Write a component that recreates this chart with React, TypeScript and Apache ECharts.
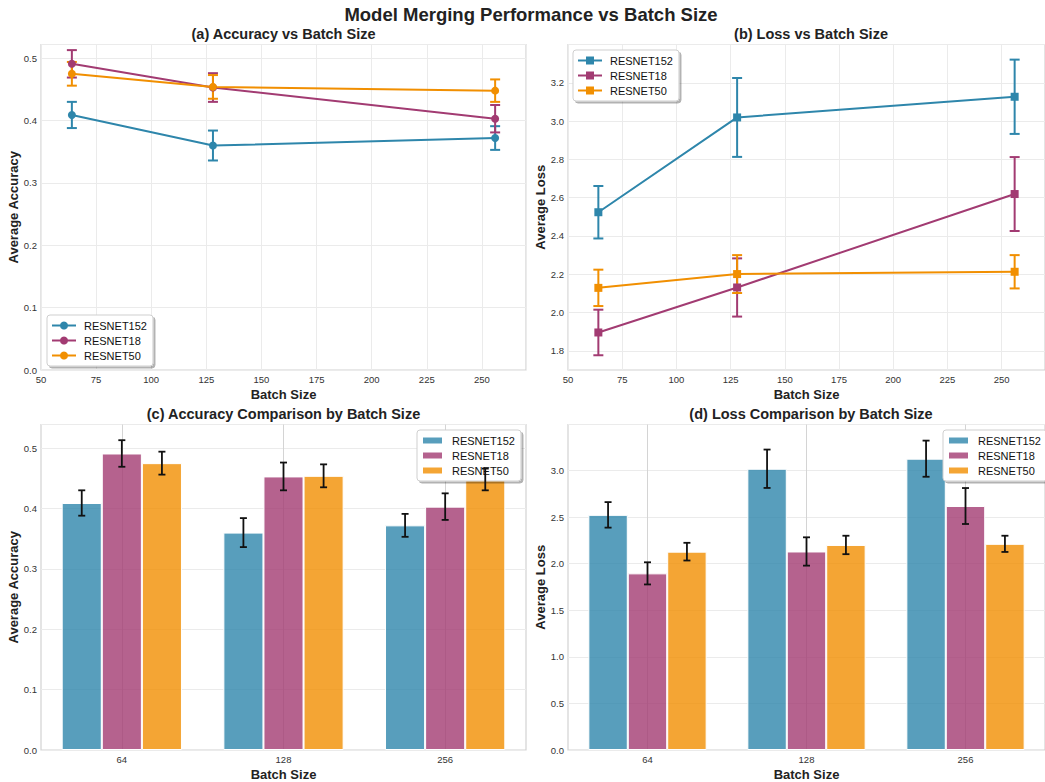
import React, { useEffect, useRef } from 'react';
import * as echarts from 'echarts';

// ---------------- data ----------------
const batchSizes = [64, 128, 256];
const batchLabels = ['64', '128', '256'];
const models = ['RESNET152', 'RESNET18', 'RESNET50'];
const modelColors = ['#2E86AB', '#A23B72', '#F18F01'];
const barColors = ['rgba(46,134,171,0.8)', 'rgba(162,59,114,0.8)', 'rgba(241,143,1,0.8)'];

const accR152 = [0.409, 0.360, 0.372];
const accR18 = [0.491, 0.453, 0.403];
const accR50 = [0.475, 0.454, 0.448];
const accErrR152 = [0.021, 0.024, 0.019];
const accErrR18 = [0.022, 0.023, 0.022];
const accErrR50 = [0.019, 0.019, 0.018];

const lossR152 = [2.524, 3.019, 3.127];
const lossR18 = [1.896, 2.131, 2.619];
const lossR50 = [2.129, 2.201, 2.213];
const lossErrR152 = [0.137, 0.206, 0.194];
const lossErrR18 = [0.119, 0.152, 0.193];
const lossErrR50 = [0.095, 0.099, 0.087];

const accMeans = [accR152, accR18, accR50];
const accErrs = [accErrR152, accErrR18, accErrR50];
const lossMeans = [lossR152, lossR18, lossR50];
const lossErrs = [lossErrR152, lossErrR18, lossErrR50];

const FONT = '"Liberation Sans", Arial, Helvetica, sans-serif';

// ---------------- helpers ----------------
function errRender(capHalf: number, lw: number, color: string, offsetFrac: number) {
  return (params: any, api: any) => {
    const x = api.value(0);
    const lo = api.value(2);
    const hi = api.value(3);
    const pLo = api.coord([x, lo]);
    const pHi = api.coord([x, hi]);
    const off = offsetFrac ? api.size([1, 0])[0] * offsetFrac : 0;
    const cx = pLo[0] + off;
    const style = { stroke: color, lineWidth: lw, fill: 'none' };
    return {
      type: 'group',
      children: [
        { type: 'line', shape: { x1: cx, y1: pLo[1], x2: cx, y2: pHi[1] }, style },
        { type: 'line', shape: { x1: cx - capHalf, y1: pLo[1], x2: cx + capHalf, y2: pLo[1] }, style },
        { type: 'line', shape: { x1: cx - capHalf, y1: pHi[1], x2: cx + capHalf, y2: pHi[1] }, style },
      ],
    };
  };
}

const tickLabel = { fontSize: 9.5, color: '#333', fontFamily: FONT };
const axisName = { fontSize: 13, fontWeight: 'bold', color: '#222', fontFamily: FONT };
const gridBase = { show: true, backgroundColor: '#fff', borderColor: '#d2d2d2', borderWidth: 1.2 };
const lightGrid = { show: true, lineStyle: { color: '#ebebeb', width: 1 } };

function legendBox(id: string, left: number, top: number, names: string[], iconW: number, iconH: number, textPad: number, icon?: string) {
  const l: any = {
    id,
    orient: 'vertical',
    left,
    top,
    data: names,
    itemWidth: iconW,
    itemHeight: iconH,
    itemGap: 4,
    padding: [5, 6, 5, 4],
    backgroundColor: '#fff',
    borderColor: '#cfcfcf',
    borderWidth: 1,
    borderRadius: 3,
    shadowColor: 'rgba(0,0,0,0.3)',
    shadowBlur: 1,
    shadowOffsetX: 2,
    shadowOffsetY: 2,
    formatter: (n: string) => n.split(':')[1],
    textStyle: { fontSize: 11, color: '#111', fontFamily: FONT, padding: [0, 0, 0, textPad] },
    selectedMode: false,
  };
  if (icon) l.icon = icon;
  return l;
}

function buildOption() {
  const series: any[] = [];

  // (a) accuracy lines
  models.forEach((m, i) => {
    series.push({
      name: 'a:' + m,
      type: 'line',
      xAxisIndex: 0,
      yAxisIndex: 0,
      data: batchSizes.map((b, j) => [b, accMeans[i][j]]),
      symbol: 'circle',
      symbolSize: 8,
      lineStyle: { width: 2, color: modelColors[i] },
      itemStyle: { color: modelColors[i] },
      z: 3,
    });
    series.push({
      name: 'aerr' + i,
      type: 'custom',
      xAxisIndex: 0,
      yAxisIndex: 0,
      data: batchSizes.map((b, j) => [b, accMeans[i][j], accMeans[i][j] - accErrs[i][j], accMeans[i][j] + accErrs[i][j]]),
      renderItem: errRender(5, 2, modelColors[i], 0),
      z: 3,
    });
  });

  // (b) loss lines
  models.forEach((m, i) => {
    series.push({
      name: 'b:' + m,
      type: 'line',
      xAxisIndex: 1,
      yAxisIndex: 1,
      data: batchSizes.map((b, j) => [b, lossMeans[i][j]]),
      symbol: 'rect',
      symbolSize: 8,
      lineStyle: { width: 2, color: modelColors[i] },
      itemStyle: { color: modelColors[i] },
      z: 3,
    });
    series.push({
      name: 'berr' + i,
      type: 'custom',
      xAxisIndex: 1,
      yAxisIndex: 1,
      data: batchSizes.map((b, j) => [b, lossMeans[i][j], lossMeans[i][j] - lossErrs[i][j], lossMeans[i][j] + lossErrs[i][j]]),
      renderItem: errRender(5, 2, modelColors[i], 0),
      z: 3,
    });
  });

  const BW = 0.248;
  // (c) accuracy bars, (d) loss bars
  [
    { key: 'c', ax: 2, means: accMeans, errs: accErrs },
    { key: 'd', ax: 3, means: lossMeans, errs: lossErrs },
  ].forEach((cfg) => {
    models.forEach((m, i) => {
      series.push({
        name: cfg.key + ':' + m,
        type: 'bar',
        xAxisIndex: cfg.ax,
        yAxisIndex: cfg.ax,
        data: cfg.means[i],
        barWidth: BW * 100 + '%',
        barGap: '0%',
        itemStyle: { color: barColors[i], borderColor: '#ffffff', borderWidth: 1 },
        z: 2,
      });
    });
    models.forEach((m, i) => {
      series.push({
        name: cfg.key + 'err' + i,
        type: 'custom',
        xAxisIndex: cfg.ax,
        yAxisIndex: cfg.ax,
        data: batchLabels.map((_, j) => [j, cfg.means[i][j], cfg.means[i][j] - cfg.errs[i][j], cfg.means[i][j] + cfg.errs[i][j]]),
        renderItem: errRender(3.5, 1.8, '#111', BW * (i - 1)),
        z: 4,
      });
    });
  });

  const valueX = (gi: number) => ({
    type: 'value',
    gridIndex: gi,
    min: 50,
    max: 270,
    interval: 25,
    axisLine: { show: false },
    axisTick: { show: false },
    axisLabel: { ...tickLabel, margin: 4, showMaxLabel: false },
    splitLine: lightGrid,
    name: 'Batch Size',
    nameLocation: 'middle',
    nameGap: 18,
    nameTextStyle: axisName,
  });
  const catX = (gi: number) => ({
    type: 'category',
    gridIndex: gi,
    data: batchLabels,
    axisLine: { show: false },
    axisTick: { show: false, alignWithLabel: true },
    axisLabel: { ...tickLabel, margin: 4 },
    splitLine: { show: true, alignWithLabel: true, lineStyle: { color: '#d4d4d4', width: 1 } },
    name: 'Batch Size',
    nameLocation: 'middle',
    nameGap: 18,
    nameTextStyle: axisName,
  });
  const valY = (gi: number, name: string, min: number, max: number, interval: number, extra: any = {}) => ({
    type: 'value',
    gridIndex: gi,
    min,
    max,
    interval,
    axisLine: { show: false },
    axisTick: { show: false },
    axisLabel: { ...tickLabel, margin: 4, showMaxLabel: false, formatter: (v: number) => v.toFixed(1) },
    splitLine: lightGrid,
    name,
    nameLocation: 'middle',
    nameGap: 20,
    nameTextStyle: axisName,
    ...extra,
  });

  const lossLineY = valY(1, 'Average Loss', 1.7, 3.4, 0.1, {
    axisLabel: {
      ...tickLabel,
      margin: 4,
      showMaxLabel: false,
      formatter: (v: number) => (Math.round(v * 10) % 2 === 0 && v < 3.35 ? v.toFixed(1) : ''),
    },
    splitLine: { show: true, lineStyle: { color: ['rgba(0,0,0,0)', '#ebebeb'], width: 1 } },
  });

  const titleFont = 'bold 14.5px ' + FONT;
  const graphic = [
    { type: 'text', x: 531, y: 14, style: { text: 'Model Merging Performance vs Batch Size', font: 'bold 18.5px ' + FONT, fill: '#222', textAlign: 'center', textVerticalAlign: 'middle' } },
    { type: 'text', x: 283.5, y: 34, style: { text: '(a) Accuracy vs Batch Size', font: titleFont, fill: '#222', textAlign: 'center', textVerticalAlign: 'middle' } },
    { type: 'text', x: 811, y: 34, style: { text: '(b) Loss vs Batch Size', font: titleFont, fill: '#222', textAlign: 'center', textVerticalAlign: 'middle' } },
    { type: 'text', x: 283.5, y: 414, style: { text: '(c) Accuracy Comparison by Batch Size', font: titleFont, fill: '#222', textAlign: 'center', textVerticalAlign: 'middle' } },
    { type: 'text', x: 811, y: 414, style: { text: '(d) Loss Comparison by Batch Size', font: titleFont, fill: '#222', textAlign: 'center', textVerticalAlign: 'middle' } },
  ];

  return {
    animation: false,
    backgroundColor: '#fff',
    textStyle: { fontFamily: FONT },
    graphic,
    grid: [
      { ...gridBase, left: 41, top: 44.5, width: 485, height: 325.5 },
      { ...gridBase, left: 568, top: 44.5, width: 485, height: 325.5 },
      { ...gridBase, left: 41, top: 424.5, width: 485, height: 325.5 },
      { ...gridBase, left: 568, top: 424.5, width: 485, height: 325.5 },
    ],
    xAxis: [valueX(0), valueX(1), catX(2), catX(3)],
    yAxis: [
      valY(0, 'Average Accuracy', 0, 0.522, 0.1),
      lossLineY,
      valY(2, 'Average Accuracy', 0, 0.539, 0.1),
      valY(3, 'Average Loss', 0, 3.494, 0.5),
    ],
    legend: [
      legendBox('la', 47, 315, models.map((m) => 'a:' + m), 24, 10, 3),
      legendBox('lb', 573, 50, models.map((m) => 'b:' + m), 24, 10, 3),
      legendBox('lc', 417, 430, models.map((m) => 'c:' + m), 21, 8, 4, 'rect'),
      legendBox('ld', 943, 430, models.map((m) => 'd:' + m), 21, 8, 4, 'rect'),
    ],
    series,
  };
}

export default function App() {
  const ref = useRef<HTMLDivElement>(null);
  useEffect(() => {
    if (!ref.current) return;
    const chart = echarts.init(ref.current, null, { renderer: 'svg' });
    chart.setOption(buildOption() as any);
    return () => chart.dispose();
  }, []);
  return (
    <div
      ref={ref}
      style={{ position: 'fixed', left: 0, top: 0, width: 1045, height: 782, background: '#fff' }}
    />
  );
}
